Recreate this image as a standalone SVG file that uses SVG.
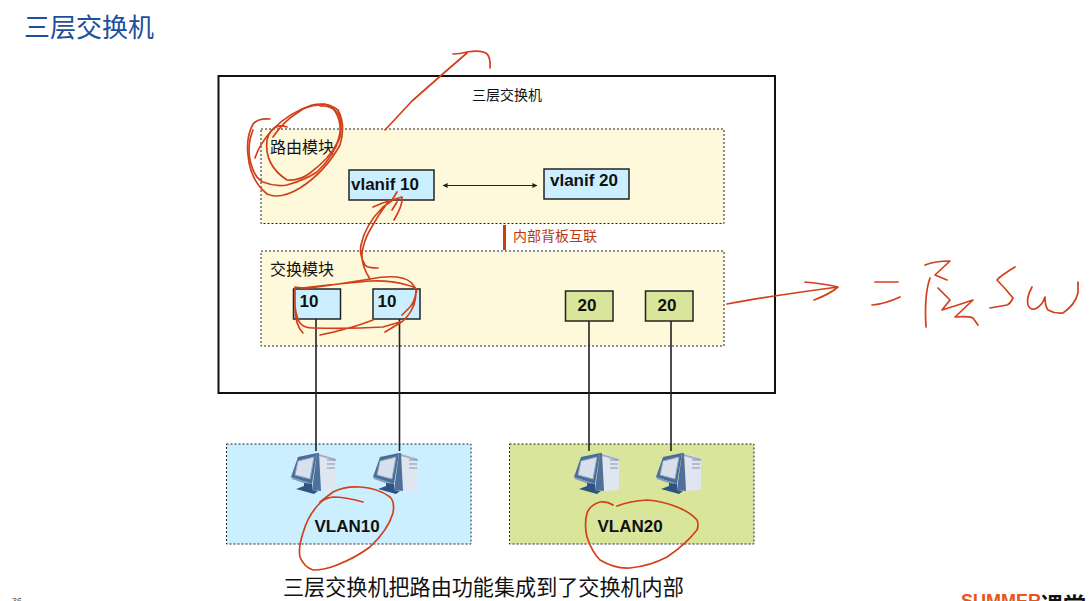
<svg xmlns="http://www.w3.org/2000/svg" xmlns:xlink="http://www.w3.org/1999/xlink" width="1090" height="601" viewBox="0 0 1090 601">
<style>
text{font-family:"Liberation Sans","Noto Sans CJK SC",sans-serif;fill:#111}
.cjk{font-family:"Noto Sans CJK SC","Liberation Sans",sans-serif}
.panel{fill:#fff9dc;stroke:#222;stroke-width:1;stroke-dasharray:2 2}
.blue{fill:#ccefff}
.green{fill:#d8e59a}
.vl{stroke:#222;stroke-width:1;stroke-dasharray:2 2}
.box{stroke:#222;stroke-width:1.5}
.b{font-weight:700;font-size:17px;text-anchor:middle}
.link{fill:none;stroke:#222;stroke-width:1.6}
.ink{fill:none;stroke:#d2401a;stroke-width:1.7;stroke-linecap:round;stroke-linejoin:round}
</style>
<defs>
<marker id="ah" viewBox="0 0 6 6" refX="5.500" refY="3" markerWidth="5" markerHeight="5" orient="auto-start-reverse"><path d="M0 0L6 3L0 6Z" fill="#222"/></marker>
<g id="pc">
<path d="M28 0L45 6V37L30 38Z" fill="#dfe6f0"/>
<path d="M28 1L45 6V8L28 3Z" fill="#9fb0c8"/>
<path d="M36 7h8M36 11h8M36 15h8" stroke="#7f93b0" stroke-width="1"/>
<path d="M26 0L28 0L30 38L21 37Z" fill="#4f7099"/>
<path d="M7 4L26 0L21 31L0 24Z" fill="#4a6d98"/>
<path d="M7 8L23 4L19 26L4 22Z" fill="#d8e0ec" stroke="#8fa7c4" stroke-width="1"/>
<path d="M0 24L21 31L21 33L1 26Z" fill="#7f9abb"/>
<path d="M13 30L21 31V37L27 38L23 41L5 36L13 33Z" fill="#2f5484"/>
</g>
</defs>
<rect width="1090" height="601" fill="#fff"/>
<text id="title" class="cjk" x="24" y="37" font-size="26" style="fill:#1d4f9c">三层交换机</text>
<g id="switch"><rect x="218.500" y="76" width="556.500" height="317" fill="#fff" stroke="#111" stroke-width="2"/><text class="cjk" x="472" y="100" font-size="14">三层交换机</text></g>
<g id="routing-module"><rect class="panel" x="261" y="129" width="463" height="94.500"/><text class="cjk" x="270" y="153" font-size="16">路由模块</text></g>
<g id="switching-module"><rect class="panel" x="261" y="251" width="463" height="95"/><text class="cjk" x="270" y="275" font-size="16">交换模块</text></g>
<g id="backplane"><rect x="503" y="225" width="3" height="25" fill="#c8400f"/><text class="cjk" x="513" y="241" font-size="14" style="fill:#b83a10">内部背板互联</text></g>
<g id="vlan10-group"><rect class="blue vl" x="226.500" y="444" width="244.500" height="100"/><text x="347" y="532" font-size="17" font-weight="700" text-anchor="middle">VLAN10</text></g>
<g id="vlan20-group"><rect class="green vl" x="509.500" y="444" width="244.500" height="100"/><text x="630" y="532" font-size="17" font-weight="700" text-anchor="middle">VLAN20</text></g>
<g id="connectors">
<path class="link" d="M316 319V451M399.500 319V451M589 321V451M671 321V451"/>
<path d="M443 185.500H537" fill="none" stroke="#222" stroke-width="1" marker-start="url(#ah)" marker-end="url(#ah)"/>
</g>
<g id="vlanif-10"><rect class="box blue" x="349" y="170" width="85" height="30"/><text class="b" x="385" y="190">vlanif 10</text></g>
<g id="vlanif-20"><rect class="box blue" x="544" y="169" width="85" height="30"/><text class="b" x="584" y="186">vlanif 20</text></g>
<g id="port-10a"><rect class="box blue" x="293.500" y="289" width="47" height="30"/><text class="b" x="309" y="307">10</text></g>
<g id="port-10b"><rect class="box blue" x="373" y="289" width="47" height="30"/><text class="b" x="387" y="307">10</text></g>
<g id="port-20a"><rect class="box green" x="565.500" y="291" width="47.500" height="30"/><text class="b" x="587" y="311">20</text></g>
<g id="port-20b"><rect class="box green" x="645.500" y="291" width="47.500" height="30"/><text class="b" x="667" y="311">20</text></g>
<g id="pc-1"><use xlink:href="#pc" href="#pc" x="291" y="453"/></g>
<g id="pc-2"><use xlink:href="#pc" href="#pc" x="373" y="453"/></g>
<g id="pc-3"><use xlink:href="#pc" href="#pc" x="574" y="453"/></g>
<g id="pc-4"><use xlink:href="#pc" href="#pc" x="656" y="453"/></g>
<text id="caption" class="cjk" x="283" y="595" font-size="21.100">三层交换机把路由功能集成到了交换机内部</text>
<g id="logo"><text x="961" y="607" font-size="18" font-weight="700" style="fill:#e8541a">SUMMER</text><text class="cjk" x="1040" y="614" font-size="23" font-weight="700">课堂</text></g>
<text id="page" x="12" y="604" font-size="9" style="fill:#555">36</text>
<g id="ink" class="ink">
<path d="M385 130L412 101L445 72L467 53M453 54Q460 54 467 52Q480 50 486 53Q491 57 490 68"/>
<path d="M270 119Q258 118 253 124Q246 137 248 155Q250 180 267 194Q280 200 300 188Q325 172 340 145Q346 125 338 110Q328 102 312 105Q290 112 272 130Q259 145 255 158"/>
<path d="M287 127Q272 122 267 140Q264 165 287 180Q300 181 310 173Q330 158 337 143Q345 125 333 108Q325 102 320 105Q305 106 297 113Q283 122 273 137"/>
<path d="M253 130Q247 145 250 160Q254 178 263 182Q275 187 287 185Q305 180 317 172Q333 157 340 137Q343 120 337 112Q330 105 320 106"/>
<path d="M378 268Q367 268 365 265Q359 255 361 245Q365 225 383 207L393 200M370 279Q361 265 362 253Q364 240 370 230Q378 215 388 202M373 207Q382 203 392 200L397 192M392 200L402 197Q403 205 394 220M397 202L392 210"/>
<path d="M303 333Q295 325 295 307L295 287Q300 288 310 288Q340 284 370 279Q385 276 397 277Q410 279 413 285Q418 290 416 293Q414 303 410 307L402 315M302 288Q335 284 370 281Q390 280 407 285Q416 287 416 290Q416 300 413 307Q408 318 400 323L385 332M295 307Q297 320 300 323Q304 328 313 328Q350 329 383 327L400 322M320 335Q350 329 373 320"/>
<path d="M727 304Q770 296 838 287M805 282Q825 284 838 287Q830 294 814 300"/>
<path d="M875 282Q885 282 898 282M872 305Q885 304 900 297"/>
<path d="M925 265Q935 261 950 261L935 275L947 280M930 278Q924 295 926 327M938 288L950 300L942 310Q955 306 973 300L955 317Q968 316 973 318L978 325"/>
<path d="M1015 267Q1000 276 997 280Q1005 288 1013 298Q1010 304 1007 305L990 308"/>
<path d="M1032 287Q1026 298 1028 305Q1030 310 1035 309Q1042 306 1045 297Q1045 306 1048 310Q1055 314 1063 313Q1075 305 1078 293L1078 282"/>
<path d="M363 502Q345 497 333 497Q325 498 320 503Q308 515 303 533Q298 548 300 557Q304 567 313 570Q325 570 337 565Q355 558 370 547Q388 530 393 513Q395 502 390 497Q378 488 360 487Q345 486 333 492L320 502"/>
<path d="M613 505Q607 501 600 502Q590 505 587 513Q584 525 587 537Q592 552 600 560Q615 569 630 568Q650 566 667 557Q685 545 697 530Q699 525 697 520Q690 512 677 507Q662 501 647 500Q630 501 617 506"/>
</g>
</svg>
